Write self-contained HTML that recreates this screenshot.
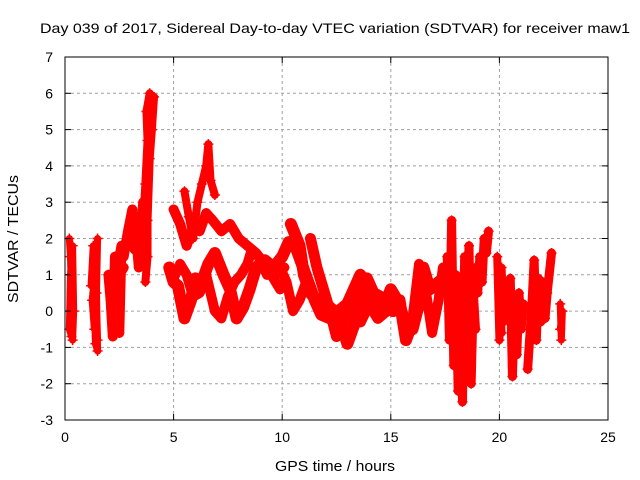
<!DOCTYPE html>
<html><head><meta charset="utf-8"><style>
html,body{margin:0;padding:0;background:#fff}
svg{display:block}
text{font-family:"Liberation Sans",sans-serif;fill:#000}
</style></head><body>
<svg id="chart" width="640" height="480">
<text x="335" y="33" font-size="14" text-anchor="middle" textLength="590" lengthAdjust="spacingAndGlyphs">Day 039 of 2017, Sidereal Day-to-day VTEC variation (SDTVAR) for receiver maw1</text>
<text x="335" y="471" font-size="15" text-anchor="middle" textLength="120" lengthAdjust="spacingAndGlyphs">GPS time / hours</text>
<text transform="translate(18,239) rotate(-90)" font-size="15" text-anchor="middle" textLength="128" lengthAdjust="spacingAndGlyphs">SDTVAR / TECUs</text>
<g id="grid"></g><g id="marks"></g><g id="axes"></g>
</svg>
<script>
const xTicks=[0,5,10,15,20,25];
const yTicks=[-3,-2,-1,0,1,2,3,4,5,6,7];
const hours1=[0.2,0.25,0.3,0.3,0.35,0.4,0.35,0.25,0.2,0.3];
const vals1=[2.0,1.5,0.5,-0.3,-0.8,0.0,1.8,1.0,-0.5,-0.7];
const hours2=[1.2,1.3,1.35,1.4,1.5,1.45,1.5,1.35,1.25,1.4,1.5];
const vals2=[0.7,1.8,0.2,-0.9,-1.1,0.5,2.0,-0.5,0.3,1.2,-0.8];
const hours3=[2.0,2.1,2.2,2.3,2.4,2.5,2.6,2.3,2.2,2.5,2.7,2.1,2.4];
const vals3=[1.0,0.3,-0.7,1.5,0.5,-0.6,1.8,0.8,0.2,1.0,1.2,0.6,1.4];
const hours4=[2.7,2.9,3.1,3.2,3.4,3.5,3.6,3.4,3.3,3.0,3.5];
const vals4=[1.5,2.2,2.8,1.7,2.5,2.0,3.0,1.2,1.9,2.0,2.6];
const hours5=[3.6,3.7,3.8,3.75,3.9,4.0,4.1,4.0,3.9,3.8,3.8,3.7];
const vals5=[2.5,3.5,4.7,5.5,6.0,5.8,5.9,5.0,4.2,2.5,1.5,0.8];
const hours6=[4.8,5.0,5.2,5.5,5.8,6.0,6.3,6.6,6.9,7.3,7.6,7.9,8.2,8.5,8.8,9.2,9.6,10.0,10.3,10.6,10.9,11.2,11.5,11.8,12.2,12.6,13.0,13.3,13.6,13.9,14.2,14.5,14.8,15.0,15.3,15.6,16.0,16.3,16.5,16.8,17.2,17.6];
const vals6=[1.2,0.8,0.7,-0.2,0.3,0.9,0.8,1.3,1.6,1.0,0.6,-0.2,0.1,0.6,1.2,1.4,1.2,1.5,1.9,1.8,1.3,0.8,0.3,-0.1,-0.2,0.0,0.2,0.6,1.0,0.7,0.2,0.0,0.3,0.6,0.3,-0.2,-0.5,0.2,1.2,0.6,0.8,1.0];
const hours7=[5.0,5.3,5.6,5.9,6.2,6.5,6.8,7.2,7.6,8.0,8.4,8.8,9.2,9.6,9.9];
const vals7=[2.8,2.4,1.8,2.3,2.2,2.7,2.5,2.2,2.4,2.0,1.8,1.6,1.3,0.9,0.6];
const hours8=[5.0,5.3,5.6,5.9,6.2,6.5,6.7,6.9,7.2,7.5,7.8,8.1,8.4,8.6,8.9,9.3,9.7,10.1];
const vals8=[0.9,1.3,1.0,0.4,0.5,1.0,0.5,0.0,-0.2,0.4,0.8,1.0,1.3,1.7,1.5,1.0,1.0,1.2];
const hours9=[5.5,5.7,5.9,6.1,6.3,6.5,6.6,6.7,6.9];
const vals9=[3.3,2.6,2.0,3.0,3.5,4.0,4.6,3.6,3.2];
const hours10=[10.4,10.6,10.8,11.0,11.3,11.6,12.0,12.4,12.8,13.0,13.3,13.6,13.9,14.2,14.5,14.8,15.1,15.4,15.7,16.0];
const vals10=[2.4,2.1,1.8,1.0,0.5,0.3,0.2,0.0,-0.5,-0.9,-0.4,0.3,0.9,0.5,0.4,0.2,0.0,0.3,-0.8,-0.3];
const hours11=[11.3,11.6,11.9,12.2,12.5,12.8,13.2,13.6,14.0,14.4,14.8];
const vals11=[2.0,1.2,0.6,0.0,-0.7,-0.3,0.0,-0.3,0.2,-0.2,0.0];
const hours12=[9.9,10.2,10.5,10.8,11.1,11.4,11.7,12.0];
const vals12=[1.2,0.8,0.0,0.3,0.8,0.4,0.1,0.3];
const hours13=[16.0,16.3,16.6,16.9,17.2,17.4,17.6];
const vals13=[-0.2,1.3,0.6,-0.6,0.3,1.2,0.8];
const hours14=[17.6,17.7,17.8,17.9,18.0,18.1,18.2,18.3,18.4,18.5,18.6,18.7,18.8,18.9,18.0,18.3];
const vals14=[1.5,-0.8,2.5,-1.5,1.0,-2.2,0.5,-2.5,1.5,-1.0,1.8,-2.0,0.5,-0.5,0.0,-0.5];
const hours15=[18.9,19.0,19.1,19.2,19.3,19.4,19.5];
const vals15=[1.2,0.5,1.5,0.8,2.0,1.6,2.2];
const hours16=[19.9,20.0,20.1,20.2,20.0,20.1];
const vals16=[1.5,-0.8,1.2,-0.3,0.6,-0.6];
const hours17=[20.5,20.6,20.7,20.8,20.9,21.0,21.1,20.8];
const vals17=[0.9,-1.8,0.3,-1.2,0.5,-0.5,0.2,-0.2];
const hours18=[21.3,21.5,21.6,21.7,21.8,21.9,22.0,22.1,22.2,22.4];
const vals18=[-1.6,0.2,1.4,-0.8,0.9,-0.3,0.8,-0.2,0.5,1.6];
const hours19=[22.8,22.85,22.9,22.8];
const vals19=[0.2,-0.8,0.0,-0.5];

const tracks=[[hours1,vals1,7],[hours2,vals2,7],[hours3,vals3,10],[hours4,vals4,10],[hours5,vals5,8],[hours6,vals6,12],[hours7,vals7,10],[hours8,vals8,10],[hours9,vals9,8],[hours10,vals10,12],[hours11,vals11,11],[hours12,vals12,10],[hours13,vals13,10],[hours14,vals14,9],[hours15,vals15,9],[hours16,vals16,8],[hours17,vals17,9],[hours18,vals18,9],[hours19,vals19,7]];

const L=65,R=608,T=57,B=420;
const xs=h=>L+h/25*(R-L);
const ys=v=>B-(v+3)/10*(B-T);
const NS='http://www.w3.org/2000/svg';
function mk(tag,attrs,parent){const e=document.createElementNS(NS,tag);for(const k in attrs)e.setAttribute(k,attrs[k]);parent.appendChild(e);return e;}
const grid=document.getElementById('grid'),axes=document.getElementById('axes'),marks=document.getElementById('marks');
xTicks.forEach(t=>{
  if(t>0&&t<25){const g=mk('line',{x1:xs(t),x2:xs(t),y1:T,y2:B,stroke:'#a0a0a0','stroke-dasharray':'3,3'},grid);
  
  }
  const tx=mk('text',{x:xs(t),y:B+22,'font-size':14,'text-anchor':'middle'},axes);tx.textContent=t;
  
  
  mk('line',{x1:xs(t),x2:xs(t),y1:B,y2:B-6,stroke:'#000'},axes);
  mk('line',{x1:xs(t),x2:xs(t),y1:T,y2:T+6,stroke:'#000'},axes);
});
yTicks.forEach(t=>{
  if(t>-3&&t<7){const g=mk('line',{x1:L,x2:R,y1:ys(t),y2:ys(t),stroke:'#a0a0a0','stroke-dasharray':'3,3'},grid);
  
  }
  const tx=mk('text',{x:L-12,y:ys(t)+5,'font-size':14,'text-anchor':'end'},axes);tx.textContent=t;
  
  
  mk('line',{x1:L,x2:L+6,y1:ys(t),y2:ys(t),stroke:'#000'},axes);
  mk('line',{x1:R,x2:R-6,y1:ys(t),y2:ys(t),stroke:'#000'},axes);
});
const fr=mk('rect',{x:L,y:T,width:R-L,height:B-T,fill:'none',stroke:'#000'},axes);


tracks.forEach(([hs,vs,w])=>{
  const pts=hs.map((h,i)=>xs(h)+','+ys(vs[i])).join(' ');
  const pl=mk('polyline',{points:pts,fill:'none',stroke:'#ff0000','stroke-width':w,'stroke-linejoin':'round','stroke-linecap':'round'},marks);
  
  
  hs.forEach((h,i)=>{
    const x=xs(h),y=ys(vs[i]);
    const p=mk('path',{d:`M${x-5},${y}H${x+5}M${x},${y-5}V${y+5}`,stroke:'#ff0000','stroke-width':1.5},marks);
    
    
  });
});
</script>
</body></html>
